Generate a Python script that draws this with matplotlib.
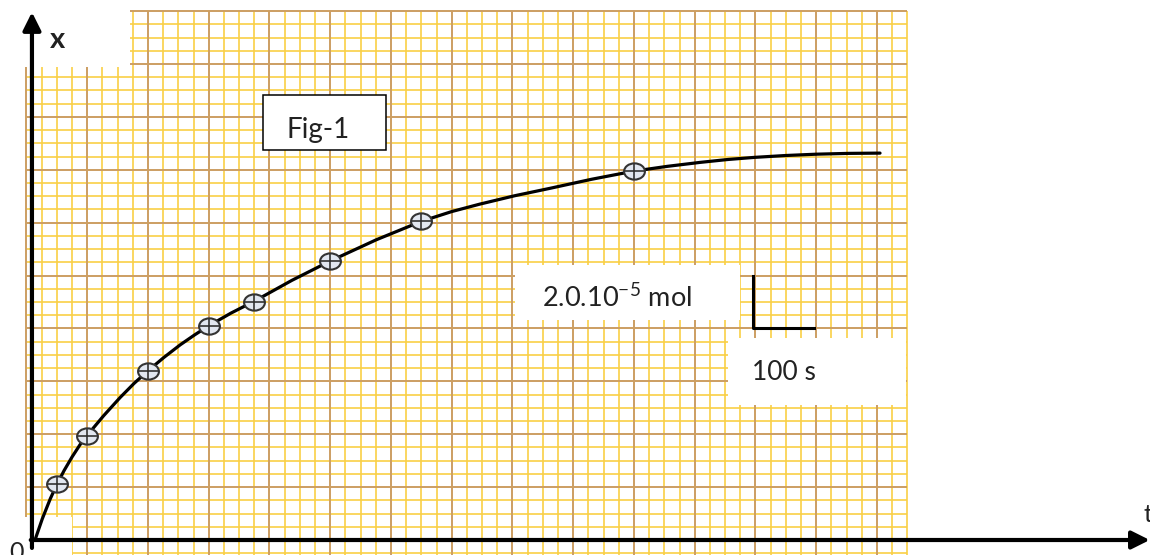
import numpy as np
import matplotlib
matplotlib.use('Agg')
import matplotlib.pyplot as plt
from matplotlib.patches import Rectangle
from matplotlib.path import Path
from matplotlib.transforms import Affine2D

plt.rcParams['font.family'] = ['Lato', 'DejaVu Sans']
plt.rcParams['mathtext.fontset'] = 'custom'
plt.rcParams['mathtext.rm'] = 'Lato'

# measured points: t in s, x in units of 1e-5 mol
t_pts = [50, 100, 200, 300, 375, 500, 650, 1000]
x_pts = [2.1, 3.95, 6.4, 8.1, 9.0, 10.55, 12.05, 13.95]

# hand drawn curve
t_curve = [14, 26, 39, 50, 62, 75, 88, 100, 127, 154, 177, 200, 226, 253, 277,
           300, 337, 375, 437, 500, 576, 650, 700, 746, 804, 862, 930, 1000,
           1055, 1109, 1155, 1199, 1250, 1301, 1353, 1405]
x_curve = [0, 0.80, 1.55, 2.1, 2.63, 3.14, 3.60, 3.96, 4.70, 5.385, 5.92, 6.4,
           6.9, 7.38, 7.76, 8.1, 8.585, 9.03, 9.82, 10.55, 11.355, 12.05, 12.42,
           12.7, 13.02, 13.3, 13.64, 13.95, 14.13, 14.28, 14.39, 14.47, 14.54,
           14.59, 14.62, 14.63]

# scale bar: 100 s horizontally, 2.0e-5 mol vertically
bar_t, bar_x = 1196, 8.0
bar_dt, bar_dx = 100, 2.0

W, H = 1150, 555
fig = plt.figure(figsize=(W / 100, H / 100), dpi=100)
ax = fig.add_axes([0, 0, 1, 1])
ax.set_xlim(-43.6, 1849.4)
ax.set_ylim(-0.567, 20.42)
ax.axis('off')


def fx(px):
    return px / W


def fy(py):
    return 1 - py / H


# graph paper
fine_t = np.arange(0, 1451, 25)
fine_y = np.arange(-0.5, 20.01, 0.5)
minor_c, major_c = '#F9CF45', '#CC9E62'
ax.vlines(fine_t[fine_t % 100 != 0], -0.6, 20, color=minor_c, lw=1.2, zorder=0.5)
ax.hlines(fine_y[np.abs(fine_y % 2) > 1e-9], 0, 1450, color=minor_c, lw=1.2, zorder=0.5)
ax.vlines(fine_t[fine_t % 100 == 0], -0.6, 20, color=major_c, lw=1.4, zorder=0.6)
ax.hlines(fine_y[np.abs(fine_y % 2) < 1e-9], 0, 1450, color=major_c, lw=1.4, zorder=0.6)

# white patches pasted over the paper
for x0, y0, x1, y1 in [(0, 0, 130, 67), (0, 517, 72, 555),
                       (515, 265, 740, 320), (728, 338, 906, 405)]:
    ax.add_patch(Rectangle((fx(x0), fy(y1)), fx(x1) - fx(x0), fy(y0) - fy(y1),
                           transform=ax.transAxes, fc='white', ec='none', zorder=1))

# curve and points
ax.plot(t_curve, x_curve, color='black', lw=2.3, zorder=3,
        solid_capstyle='round', solid_joinstyle='round')
ell = Path.unit_circle().transformed(Affine2D().scale(1, 0.78))
cross = Path([(-1, 0), (1, 0), (0, -0.78), (0, 0.78)],
             [Path.MOVETO, Path.LINETO, Path.MOVETO, Path.LINETO])
ax.plot(t_pts, x_pts, ls='none', marker=ell, ms=15, mfc='#e2e7f0', mec='#333333',
        mew=1.5, zorder=4)
ax.plot(t_pts, x_pts, ls='none', marker=cross, ms=15, mfc='none', mec='#333333',
        mew=1.2, zorder=5)

# axes with arrows
axis_t = 9
arrow = dict(arrowstyle='-|>', color='black', lw=3, mutation_scale=27,
             shrinkA=0, shrinkB=0)
ax.annotate('', xy=(axis_t, 19.96), xytext=(axis_t, -0.3), arrowprops=arrow, zorder=6)
ax.annotate('', xy=(1849, 0), xytext=(axis_t - 2, 0), arrowprops=arrow, zorder=6)
ax.text(fx(58), fy(40), 'x', transform=ax.transAxes, fontsize=21, fontweight='bold',
        ha='center', va='center', color='#222222')
ax.text(fx(16), fy(541), '0', transform=ax.transAxes, fontsize=18,
        ha='center', va='top', color='#222222')
ax.text(fx(1143), fy(514), 't', transform=ax.transAxes, fontsize=18,
        ha='left', va='center', color='#222222')

# scale bar
ax.plot([bar_t, bar_t, bar_t + bar_dt], [bar_x + bar_dx, bar_x, bar_x],
        color='black', lw=2.2, zorder=3)
ax.text(fx(542), fy(307), '2.0.10$^{\\mathrm{-5}}$ mol', transform=ax.transAxes,
        fontsize=19.5, ha='left', va='baseline', color='#222222', zorder=3)
ax.text(fx(752), fy(372), '100 s', transform=ax.transAxes,
        fontsize=19, ha='left', va='center', color='#222222', zorder=3)

# Fig-1 label
ax.add_patch(Rectangle((fx(263), fy(150)), fx(386) - fx(263), fy(95) - fy(150),
                       transform=ax.transAxes, fc='white', ec='black', lw=1.1, zorder=2))
ax.text(fx(318), fy(138), 'Fig-1', transform=ax.transAxes, fontsize=20,
        ha='center', va='baseline', color='#222222', zorder=3)

fig.savefig('out.png', dpi=100)
